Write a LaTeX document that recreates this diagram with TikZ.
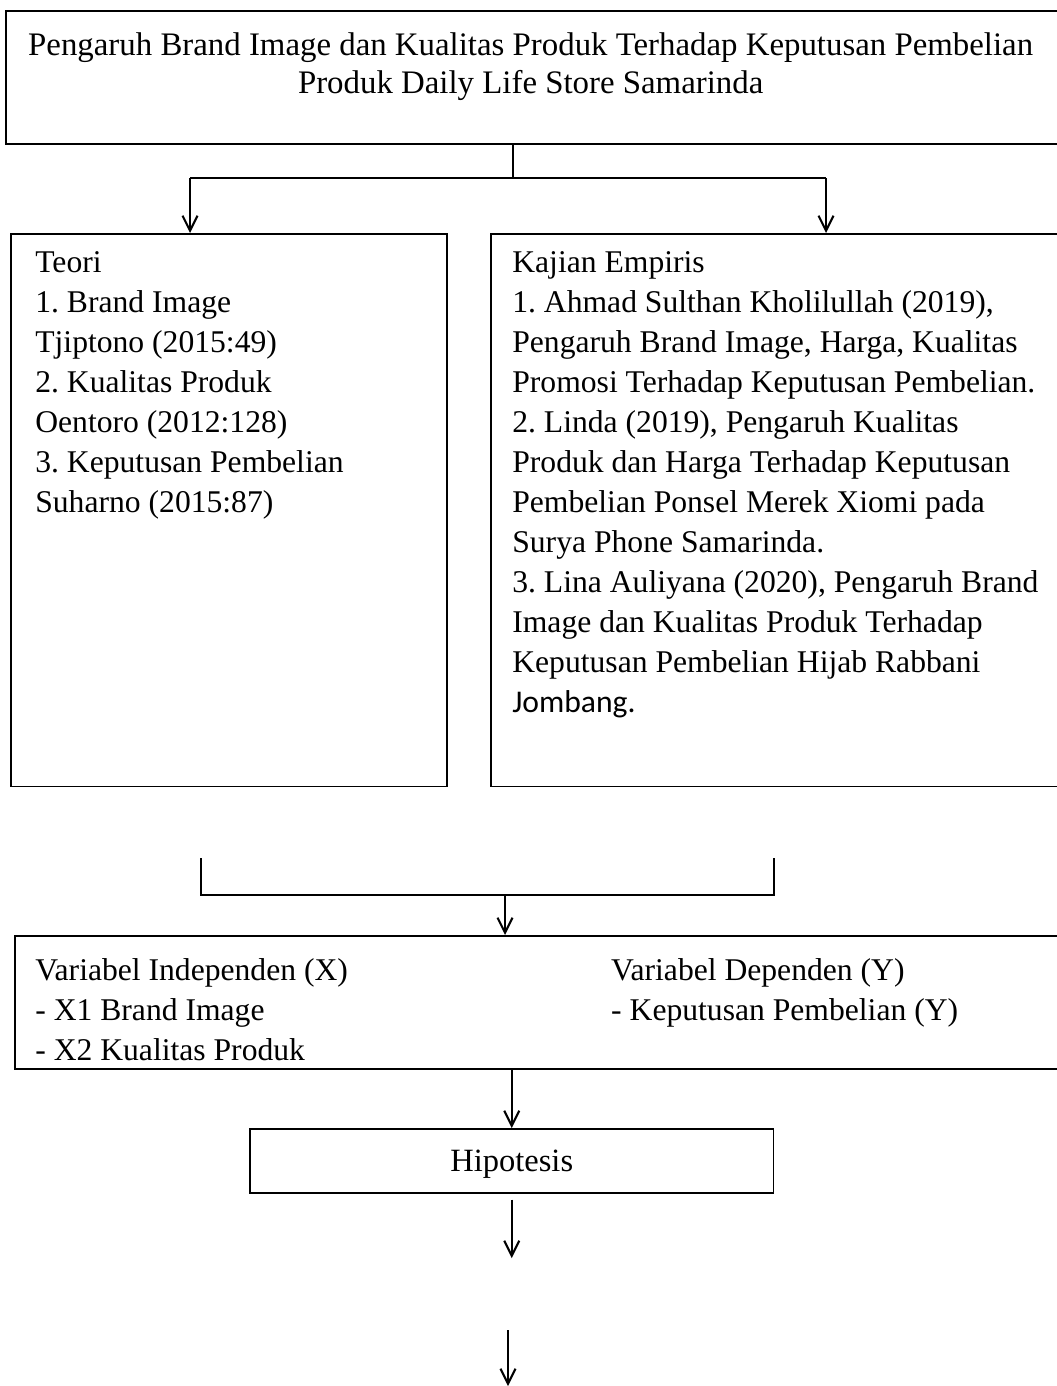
\documentclass[tikz,border=0pt]{standalone}
\usepackage{fontspec}
\setmainfont{Liberation Serif}
\newfontfamily\calibri{Carlito}
\usetikzlibrary{arrows.meta,positioning,calc}
\frenchspacing

\begin{document}
\begin{tikzpicture}[x=0.02cm,y=-0.02cm,
  box/.style={draw,line width=0.9pt,anchor=north west,inner sep=0pt},
  txt/.style={anchor=north west,align=left,inner sep=0pt,
    font=\fontsize{18}{22.76}\selectfont},
  arr/.style={line width=1.2pt,-{Straight Barb[length=3mm,width=3mm,line width=1.2pt]}},
  ln/.style={line width=1.2pt}]
\useasboundingbox (0,0) rectangle (1057,1386);
\clip (0,0) rectangle (1057,1386);

\node[box,minimum width=21.2cm,minimum height=2.66cm] (judul) at (5,10) {};
\node[txt,anchor=north,align=center,below=0.44cm of judul.north,xshift=-0.1cm,
  font=\fontsize{18.7}{21.6}\selectfont] (judultxt)
  {Pengaruh Brand Image dan Kualitas Produk Terhadap Keputusan Pembelian\\
   Produk Daily Life Store Samarinda};

\node[box,minimum width=8.72cm,minimum height=11.06cm] (teori) at (10,233) {};
\node[txt,below right=0.36cm and 0.5cm of teori.north west] (teoritxt)
  {Teori\\
   1. Brand Image\\
   Tjiptono (2015:49)\\
   2. Kualitas Produk\\
   Oentoro (2012:128)\\
   3. Keputusan Pembelian\\
   Suharno (2015:87)};

\node[box,minimum width=11.5cm,minimum height=11.06cm] (kajian) at (490,233) {};
\node[txt,below right=0.36cm and 0.44cm of kajian.north west] (kajiantxt)
  {Kajian Empiris\\
   1. Ahmad Sulthan Kholilullah (2019),\\
   Pengaruh Brand Image, Harga, Kualitas\\
   Promosi Terhadap Keputusan Pembelian.\\
   2. Linda (2019), Pengaruh Kualitas\\
   Produk dan Harga Terhadap Keputusan\\
   Pembelian Ponsel Merek Xiomi pada\\
   Surya Phone Samarinda.\\
   3. Lina Auliyana (2020), Pengaruh Brand\\
   Image dan Kualitas Produk Terhadap\\
   Keputusan Pembelian Hijab Rabbani\\
   {\calibri Jombang.}};

\node[box,minimum width=21.1cm,minimum height=2.66cm] (var) at (14,935) {};
\node[txt,below right=0.46cm and 0.42cm of var.north west] (varx)
  {Variabel Independen (X)\\
   - X1 Brand Image\\
   - X2 Kualitas Produk};
\node[txt,below right=0.46cm and 11.94cm of var.north west] (vary)
  {Variabel Dependen (Y)\\
   - Keputusan Pembelian (Y)};

\node[box,minimum width=10.48cm,minimum height=1.28cm,text depth=0pt,
  font=\fontsize{18.5}{22.76}\selectfont] (hipo) at (249,1128) {Hipotesis};

\coordinate (split) at (513,178);
\coordinate (bL) at (190,178);
\coordinate (bR) at (826,178);
\draw[line width=0.6pt] (split |- judul.south) -- (split);
\draw[ln] (bL) -- (bR);
\draw[arr] (bL) -- (bL |- teori.north);
\draw[arr] (bR) -- (bR |- kajian.north);

\coordinate (jL) at (201,858);
\coordinate (jR) at (774,858);
\coordinate (join) at (505,895);
\draw[ln] (jL) -- (jL |- join) -- (jR |- join) -- (jR);
\draw[arr] (join) -- (join |- var.north);

\draw[arr] (hipo.north |- var.south) -- (hipo.north);

\coordinate (endA) at (510,1258);
\draw[arr,shorten <=1.2mm] (hipo.south) -- (hipo.south |- endA);

\coordinate (startB) at (508,1330);
\coordinate (endB) at (508,1386);
\draw[arr] (startB) -- (endB);
\end{tikzpicture}
\end{document}
